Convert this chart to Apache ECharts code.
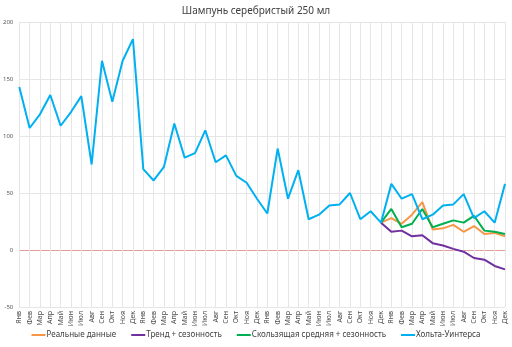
<!DOCTYPE html>
<html>
<head>
<meta charset="utf-8">
<script src="https://cdn.jsdelivr.net/npm/echarts@6/dist/echarts.min.js"></script>
<style>
html, body { margin: 0; padding: 0; background: #fff; }
#chart { width: 512px; height: 347px; }
</style>
</head>
<body>
<div id="chart"></div>
<script>
var months = ['Янв', 'Фев', 'Мар', 'Апр', 'Май', 'Июн', 'Июл', 'Авг', 'Сен', 'Окт', 'Ноя', 'Дек'];
var years = 4;

var holtWinters = [
	143, 107, 119, 136, 109, 121, 135, 75, 166, 130, 166, 185,
	71, 61, 73, 111, 81, 85, 105, 77, 83, 65, 59, 45,
	32, 89, 45, 70, 27, 31, 39, 40, 50, 27, 34, 24,
	58, 45, 49, 27, 31, 39, 40, 49, 28, 34, 24, 58
];
// прогнозы начинаются с декабря третьего года
var forecastStart = 35;
var realData = [24, 28, 23, 31, 42, 18, 19, 22, 16, 21, 14, 15, 12];
var trendSeason = [24, 16, 17, 12, 13, 6, 4, 1, -1.5, -7, -8.5, -14, -17];
var movingAvg = [24, 36, 20, 23, 36, 20, 23, 26, 24, 30, 17, 16, 14];

var categories = [];
for (var y = 0; y < years; y++) {
	for (var m = 0; m < months.length; m++) categories.push(months[m]);
}

function pad(arr) {
	var out = [];
	for (var i = 0; i < forecastStart; i++) out.push(null);
	return out.concat(arr);
}

var font = 'Noto Sans';
var dom = document.getElementById('chart');
var myChart = echarts.init(dom, null, { renderer: 'canvas' });

function lineSeries(name, color, data) {
	return {
		name: name,
		type: 'line',
		data: data,
		symbol: 'none',
		smooth: false,
		connectNulls: false,
		lineStyle: { color: color, width: 2 },
		itemStyle: { color: color }
	};
}

var option = {
	animation: false,
	title: {
		text: 'Шампунь серебристый 250 мл',
		left: 'center',
		top: 1,
		textStyle: { fontFamily: font, fontSize: 10, fontWeight: 'normal', color: '#404040' }
	},
	legend: {
		bottom: 3,
		left: 'center',
		icon: 'rect',
		itemWidth: 14,
		itemHeight: 2,
		itemGap: 15,
		textStyle: { fontFamily: font, fontSize: 8, color: '#404040', padding: [0, 0, 0, -4] },
		data: ['Реальные данные', 'Тренд + сезонность', 'Скользящая средняя + сезонность', 'Хольта-Уинтерса']
	},
	grid: { left: 18, right: 7, top: 22, bottom: 40 },
	xAxis: {
		type: 'category',
		data: categories,
		boundaryGap: false,
		axisLine: { show: false },
		axisTick: { show: false },
		axisLabel: {
			interval: 0,
			rotate: 90,
			fontFamily: font,
			fontSize: 7,
			color: '#4d4d4d',
			margin: 4
		},
		splitLine: { show: true, interval: 0, lineStyle: { color: '#e6e6e6', width: 1 } }
	},
	yAxis: {
		type: 'value',
		min: -50,
		max: 200,
		interval: 50,
		axisLine: { show: false },
		axisTick: { show: false },
		axisLabel: { fontFamily: font, fontSize: 6, color: '#595959', margin: 6 },
		splitLine: {
			lineStyle: { color: ['#e6e6e6', '#e39c9c', '#e6e6e6', '#e6e6e6', '#e6e6e6', '#e6e6e6'], width: 1 }
		}
	},
	series: [
		lineSeries('Реальные данные', '#f79646', pad(realData)),
		lineSeries('Тренд + сезонность', '#7030a0', pad(trendSeason)),
		lineSeries('Скользящая средняя + сезонность', '#00b050', pad(movingAvg)),
		lineSeries('Хольта-Уинтерса', '#00b0f0', holtWinters)
	]
};

myChart.setOption(option);
</script>
</body>
</html>
